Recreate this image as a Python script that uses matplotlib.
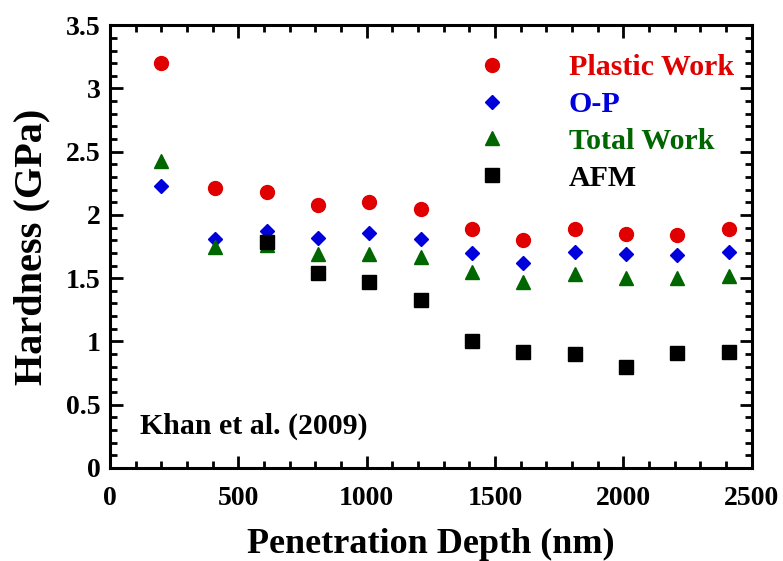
import matplotlib.pyplot as plt
from matplotlib.ticker import MultipleLocator

depth = [200, 410, 610, 810, 1010, 1210, 1410, 1610, 1810, 2010, 2210, 2410]
plastic_work = [3.20, 2.21, 2.18, 2.08, 2.10, 2.05, 1.89, 1.80, 1.89, 1.85, 1.84, 1.89]
o_p = [2.23, 1.81, 1.87, 1.82, 1.86, 1.81, 1.70, 1.62, 1.71, 1.69, 1.68, 1.71]
total_work = [2.43, 1.75, 1.76, 1.69, 1.69, 1.67, 1.55, 1.47, 1.53, 1.50, 1.50, 1.52]
afm_depth = [610, 810, 1010, 1210, 1410, 1610, 1810, 2010, 2210, 2410]
afm = [1.79, 1.54, 1.47, 1.33, 1.00, 0.92, 0.90, 0.80, 0.91, 0.92]

serif = 'Liberation Serif'

fig = plt.figure(figsize=(7.83, 5.61), dpi=100)
ax = fig.add_axes([0.1405, 0.166, 0.8195, 0.789])

ax.plot(depth, plastic_work, 'o', color='#e00000', markersize=10, label='Plastic Work')
ax.plot(depth, o_p, 'D', color='#0000dd', markersize=7.5, label='O-P')
ax.plot(depth, total_work, '^', color='#006600', markersize=10, label='Total Work')
ax.plot(afm_depth, afm, 's', color='black', markersize=10, label='AFM')

ax.set_xlim(0, 2500)
ax.set_ylim(0, 3.5)
ax.xaxis.set_major_locator(MultipleLocator(500))
ax.xaxis.set_minor_locator(MultipleLocator(100))
ax.yaxis.set_major_locator(MultipleLocator(0.5))
ax.yaxis.set_minor_locator(MultipleLocator(0.1))
ax.yaxis.set_major_formatter(plt.FuncFormatter(lambda v, p: f'{v:g}'))

ax.tick_params(which='both', direction='in', top=True, right=True, width=2)
ax.tick_params(which='major', length=9, labelsize=20)
ax.tick_params(axis='x', which='major', pad=13)
ax.tick_params(axis='y', which='major', pad=7)
ax.tick_params(which='minor', length=5)
for lab in ax.get_xticklabels() + ax.get_yticklabels():
    lab.set_fontfamily(serif)
    lab.set_fontweight('bold')
for s in ax.spines.values():
    s.set_linewidth(2.2)

ax.set_xlabel('Penetration Depth (nm)', fontsize=26, fontweight='bold', family=serif, labelpad=12)
ax.set_ylabel('Hardness (GPa)', fontsize=29, fontweight='bold', family=serif, labelpad=11)

leg = ax.legend(loc='upper right', bbox_to_anchor=(1.0, 0.975), frameon=False,
                handletextpad=1.55, labelspacing=0.33,
                prop={'family': serif, 'weight': 'bold', 'size': 21.5}, borderaxespad=0.2)
for txt, c in zip(leg.get_texts(), ['#e00000', '#0000dd', '#006600', 'black']):
    txt.set_color(c)

ax.text(0.047, 0.093, 'Khan et al. (2009)', transform=ax.transAxes, fontsize=21.5,
        fontweight='bold', family=serif, va='center')

fig.savefig('out.png', dpi=100)
